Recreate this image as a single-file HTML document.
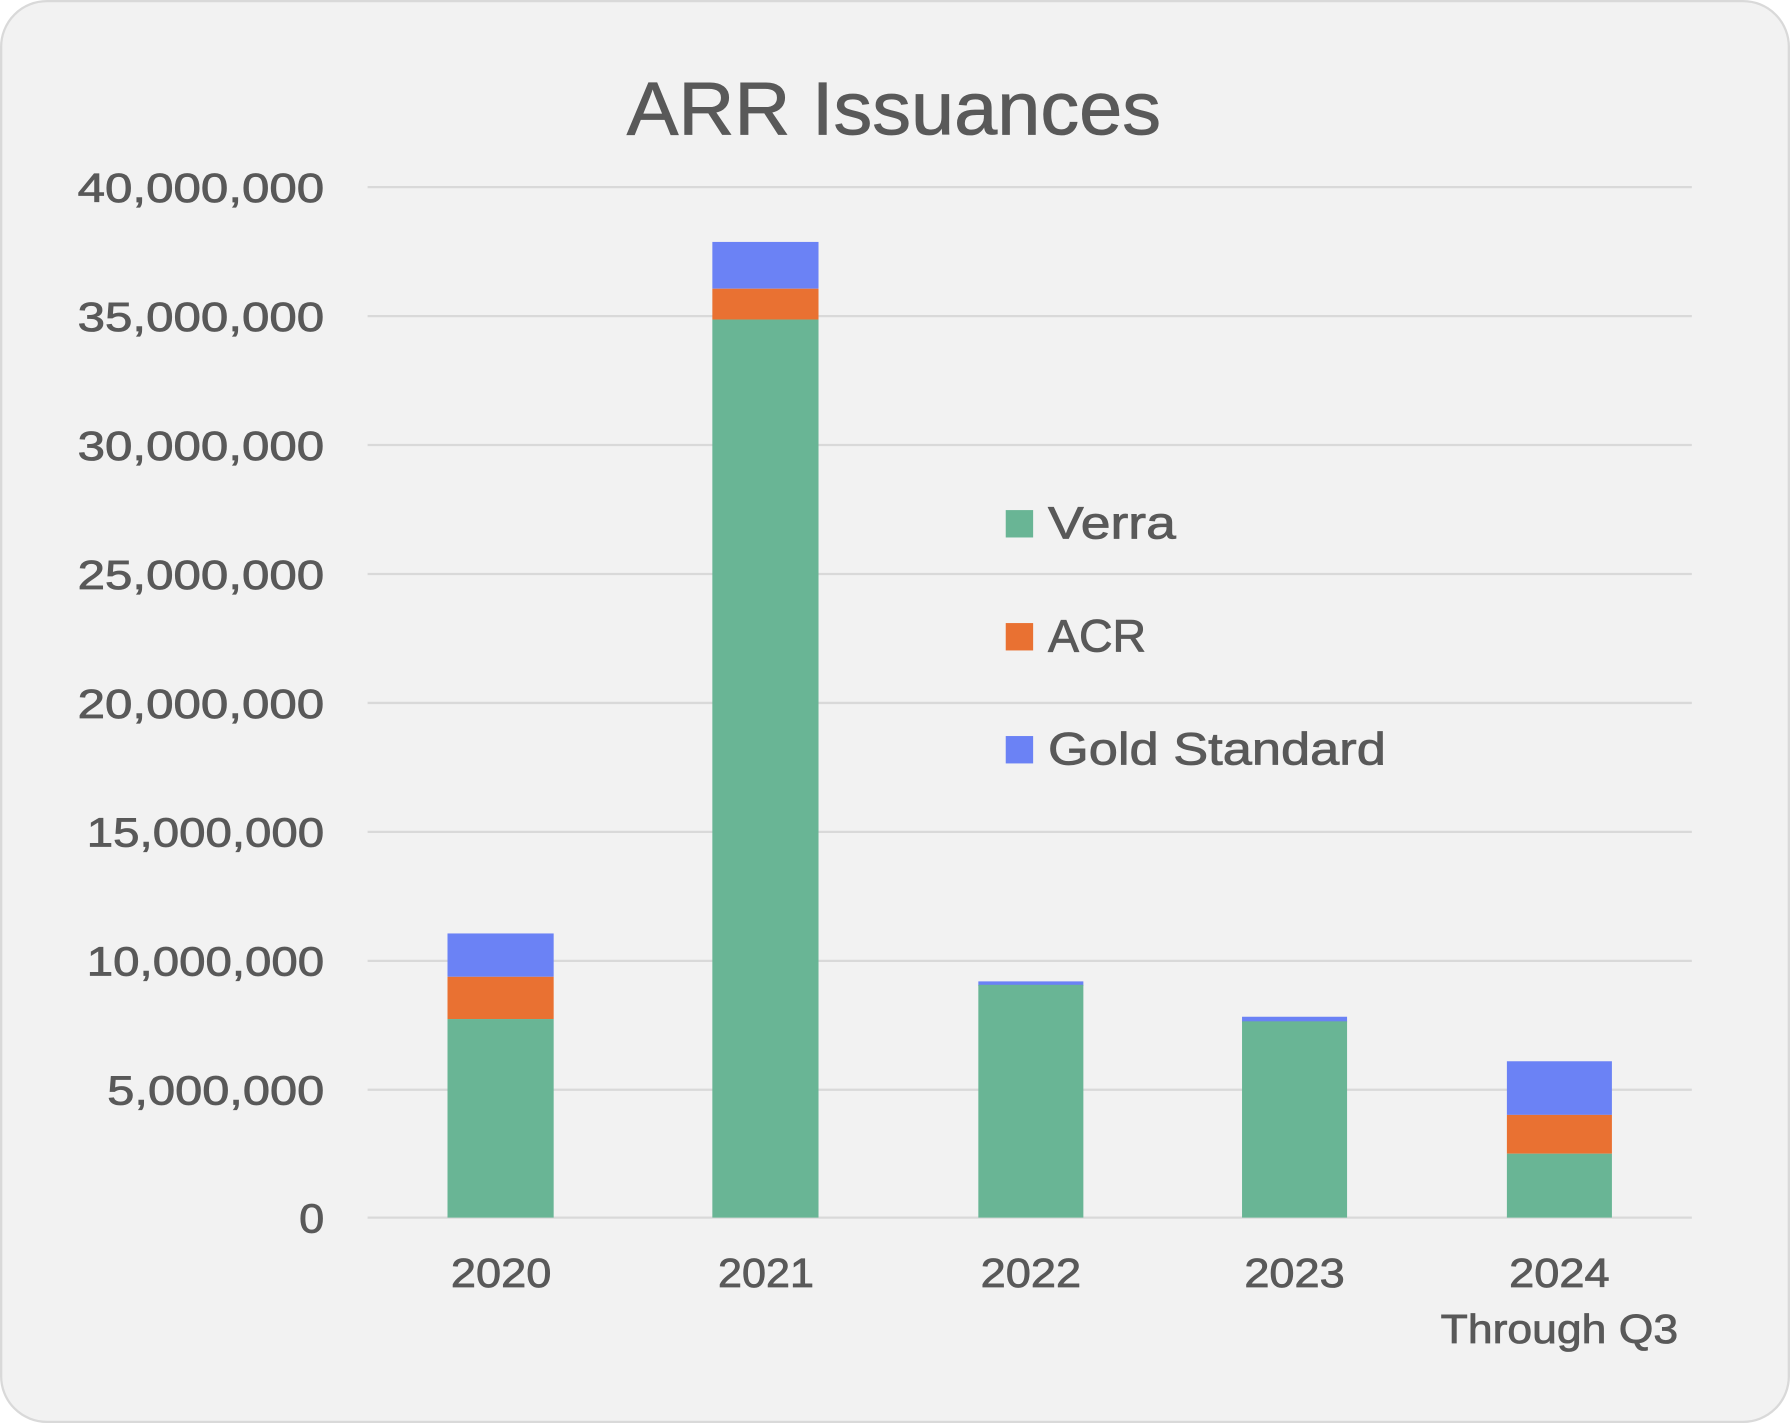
<!DOCTYPE html>
<html><head><meta charset="utf-8"><style>
html,body{margin:0;padding:0;background:#fff;}
svg{display:block;}
text{font-family:"Liberation Sans",sans-serif;fill:#595959;stroke:#595959;stroke-width:0.7;}
</style></head><body>
<svg width="1790" height="1423" viewBox="0 0 1568 1247" preserveAspectRatio="none" xmlns="http://www.w3.org/2000/svg">
<rect x="1" y="1" width="1566" height="1245" rx="40" ry="40" fill="#f2f2f2" stroke="#d9d9d9" stroke-width="2"/>
<text x="549" y="118" font-size="66" textLength="468" lengthAdjust="spacingAndGlyphs">ARR Issuances</text>
<g stroke="#d9d9d9" stroke-width="2">
<line x1="322" y1="164" x2="1482" y2="164"/>
<line x1="322" y1="277" x2="1482" y2="277"/>
<line x1="322" y1="390" x2="1482" y2="390"/>
<line x1="322" y1="503" x2="1482" y2="503"/>
<line x1="322" y1="616" x2="1482" y2="616"/>
<line x1="322" y1="729" x2="1482" y2="729"/>
<line x1="322" y1="842" x2="1482" y2="842"/>
<line x1="322" y1="955" x2="1482" y2="955"/>
<line x1="322" y1="1067" x2="1482" y2="1067"/>
</g>
<g font-size="36">
<text x="68" y="177" textLength="216" lengthAdjust="spacingAndGlyphs">40,000,000</text>
<text x="68" y="290" textLength="216" lengthAdjust="spacingAndGlyphs">35,000,000</text>
<text x="68" y="403" textLength="216" lengthAdjust="spacingAndGlyphs">30,000,000</text>
<text x="68" y="516" textLength="216" lengthAdjust="spacingAndGlyphs">25,000,000</text>
<text x="68" y="629" textLength="216" lengthAdjust="spacingAndGlyphs">20,000,000</text>
<text x="76" y="742" textLength="208" lengthAdjust="spacingAndGlyphs">15,000,000</text>
<text x="76" y="855" textLength="208" lengthAdjust="spacingAndGlyphs">10,000,000</text>
<text x="94" y="968" textLength="190" lengthAdjust="spacingAndGlyphs">5,000,000</text>
<text x="262" y="1080" textLength="22" lengthAdjust="spacingAndGlyphs">0</text>
</g>
<rect x="392" y="818" width="93" height="38" fill="#6b82f5"/>
<rect x="392" y="856" width="93" height="37" fill="#e97132"/>
<rect x="392" y="893" width="93" height="174" fill="#69b595"/>
<rect x="624" y="212" width="93" height="41" fill="#6b82f5"/>
<rect x="624" y="253" width="93" height="27" fill="#e97132"/>
<rect x="624" y="280" width="93" height="787" fill="#69b595"/>
<rect x="857" y="860" width="92" height="4" fill="#6b82f5"/>
<rect x="857" y="863" width="92" height="204" fill="#69b595"/>
<rect x="1088" y="891" width="92" height="5" fill="#6b82f5"/>
<rect x="1088" y="895" width="92" height="172" fill="#69b595"/>
<rect x="1320" y="930" width="92" height="47" fill="#6b82f5"/>
<rect x="1320" y="977" width="92" height="34" fill="#e97132"/>
<rect x="1320" y="1011" width="92" height="56" fill="#69b595"/>
<g font-size="36">
<text x="395" y="1128" textLength="88" lengthAdjust="spacingAndGlyphs">2020</text>
<text x="629" y="1128" textLength="84" lengthAdjust="spacingAndGlyphs">2021</text>
<text x="859" y="1128" textLength="88" lengthAdjust="spacingAndGlyphs">2022</text>
<text x="1090" y="1128" textLength="88" lengthAdjust="spacingAndGlyphs">2023</text>
<text x="1322" y="1128" textLength="88" lengthAdjust="spacingAndGlyphs">2024</text>
<text x="1262" y="1177" textLength="208" lengthAdjust="spacingAndGlyphs">Through Q3</text>
</g>
<rect x="881" y="447" width="24" height="24" fill="#69b595"/>
<rect x="881" y="546" width="24" height="24" fill="#e97132"/>
<rect x="881" y="645" width="24" height="24" fill="#6b82f5"/>
<g font-size="40">
<text x="918" y="472" textLength="112" lengthAdjust="spacingAndGlyphs">Verra</text>
<text x="918" y="571" textLength="86" lengthAdjust="spacingAndGlyphs">ACR</text>
<text x="918" y="670" textLength="296" lengthAdjust="spacingAndGlyphs">Gold Standard</text>
</g>
</svg>
</body></html>
